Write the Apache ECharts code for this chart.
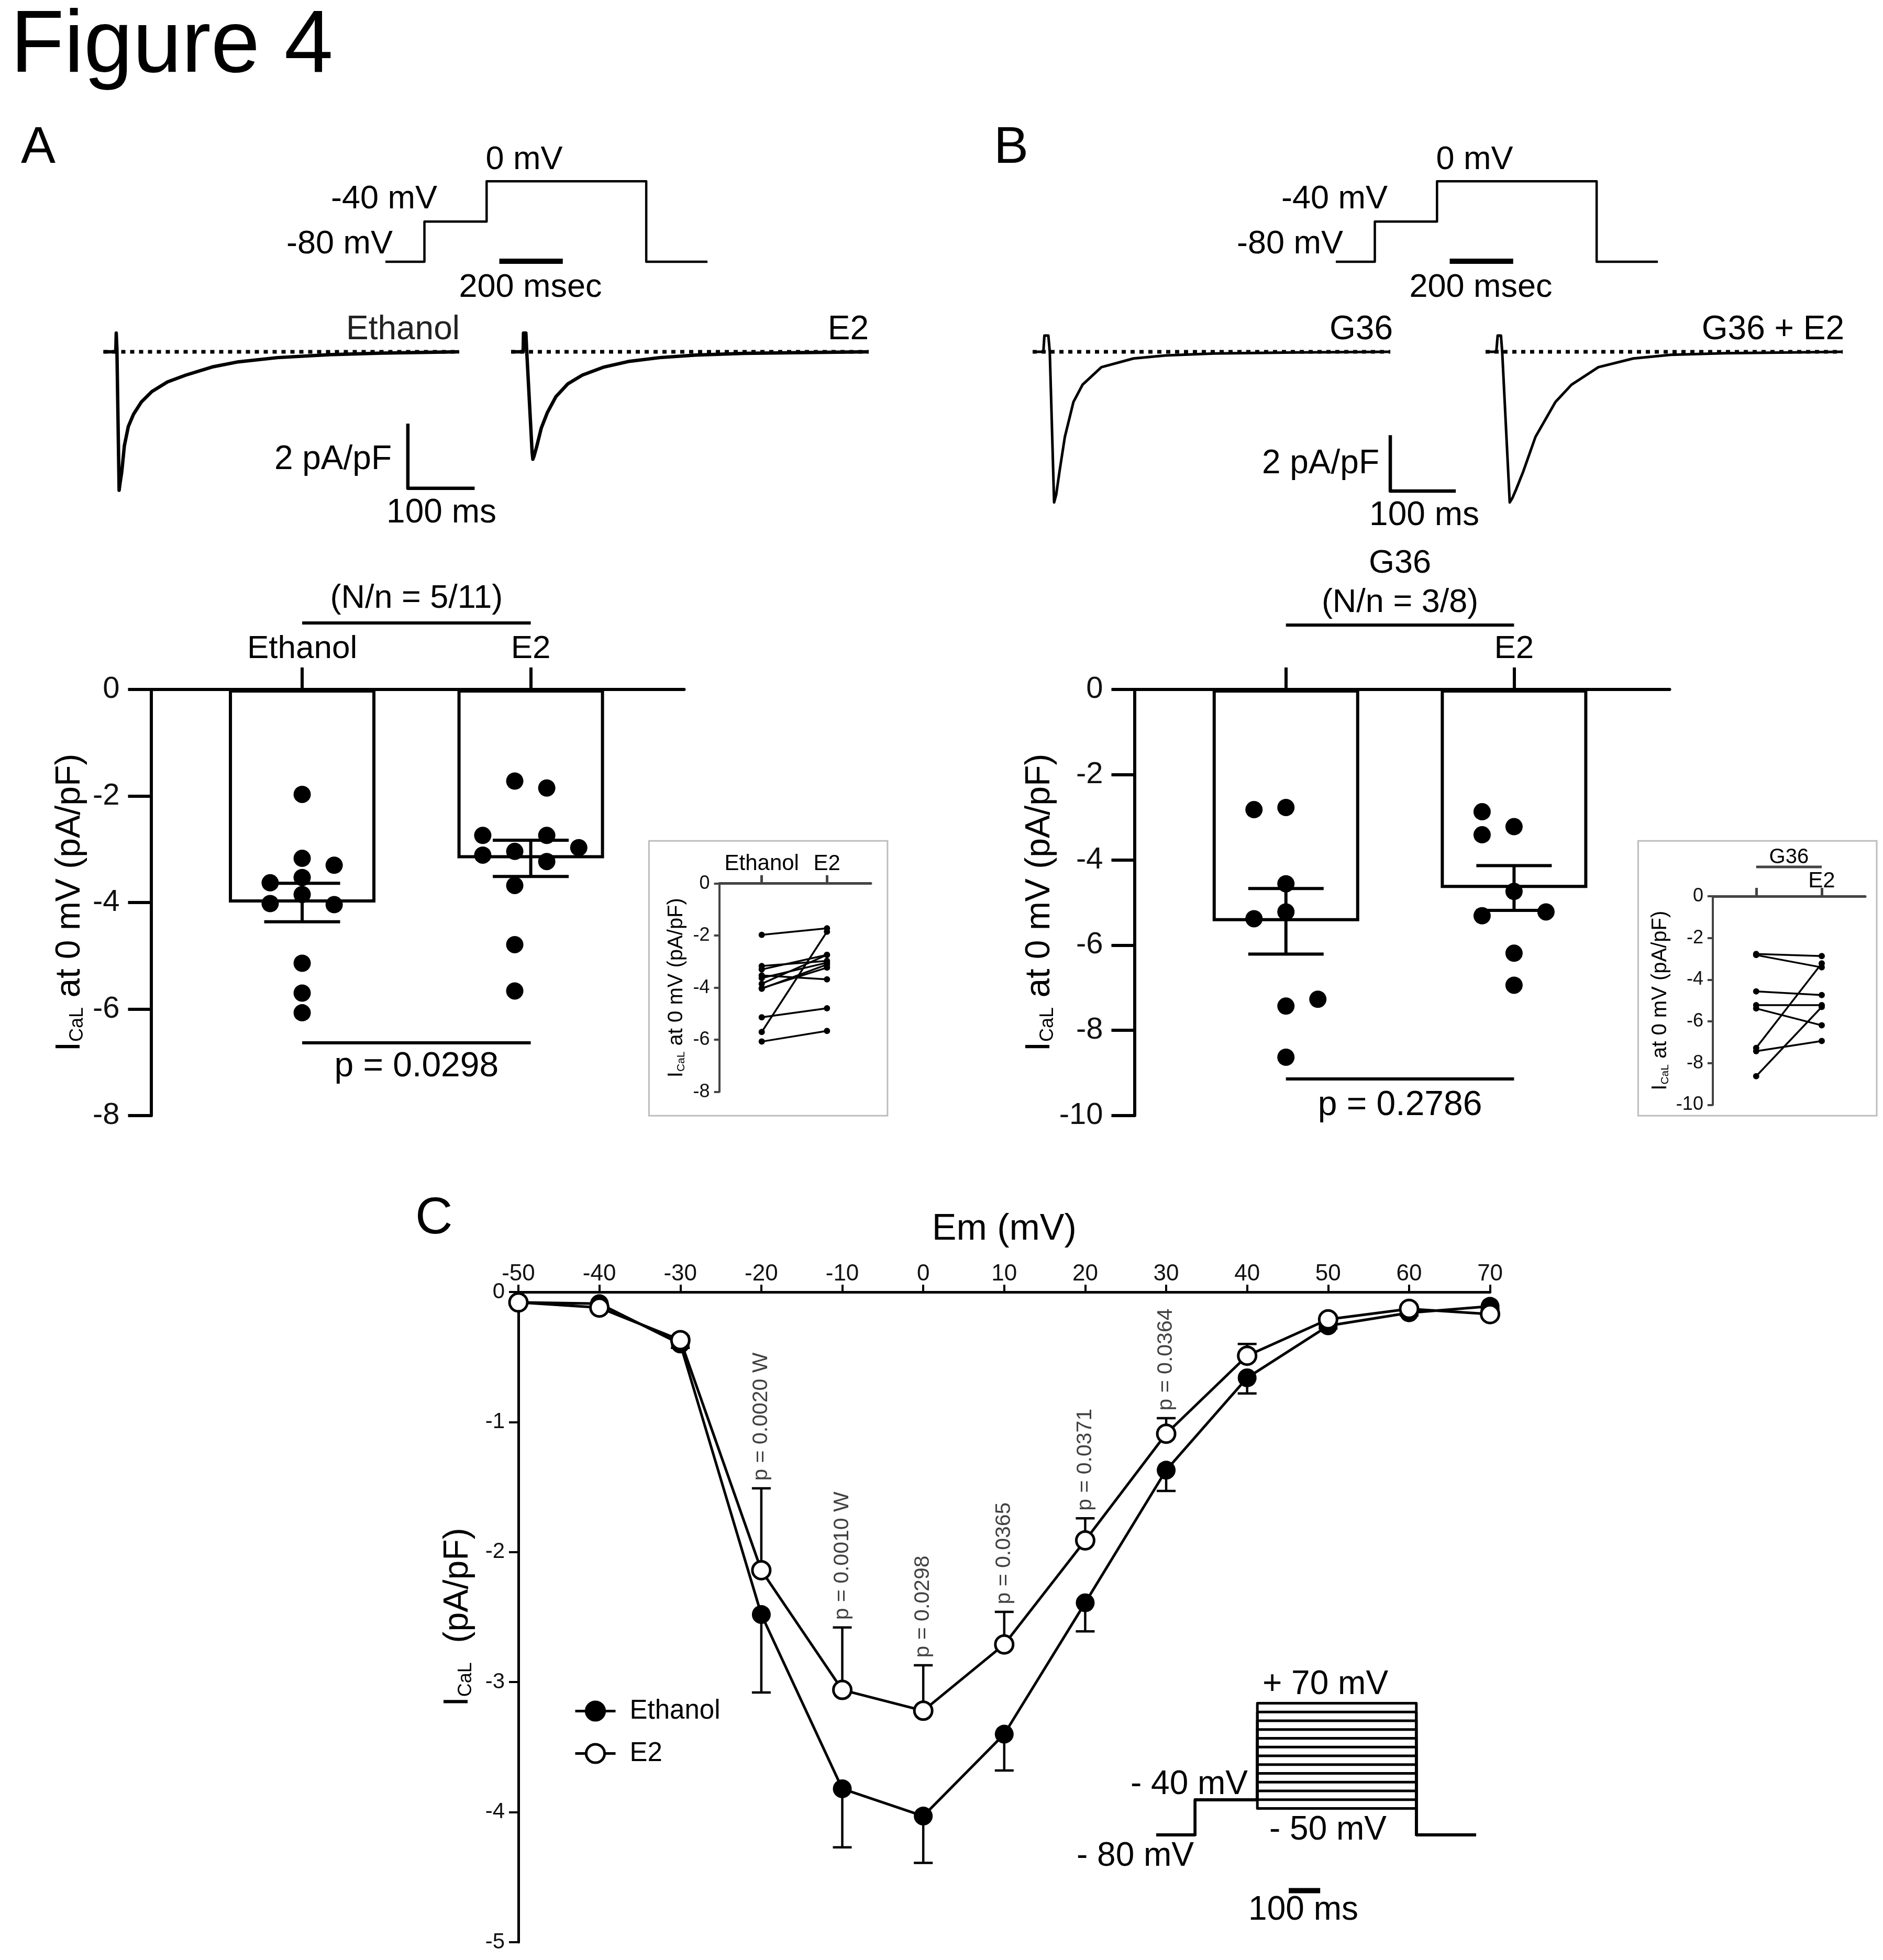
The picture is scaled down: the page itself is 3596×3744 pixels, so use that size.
<!DOCTYPE html>
<html><head><meta charset="utf-8">
<script src="https://cdn.jsdelivr.net/npm/echarts@6/dist/echarts.min.js"></script>
<style>html,body{margin:0;padding:0;background:#fff}#c{width:3596px;height:3744px}</style>
</head><body><div id="c"></div>
<script>
// ================= DATA =================
// Voltage protocol, panels A and B: [ms, mV]
const protoAB = [[0,-80],[123,-80],[123,-40],[319,-40],[319,0],[822,0],[822,-80],[1015,-80]];
const protoABScale = [[359,-79.5],[559,-79.5]];          // 200 msec bar
// Representative current traces: [ms, pA/pF]
const traceEthanol = [[0,0],[18.5,0],[19.2,0.58],[20.2,0.1],[23.5,-4.28],[25,-4.05],[27.5,-3.71],[31.4,-2.9],[37.3,-2.31],[45.1,-1.93],[56.9,-1.55],[72.5,-1.23],[96,-0.93],[123.5,-0.72],[162.7,-0.47],[202,-0.31],[260.8,-0.18],[339,-0.09],[417.6,-0.04],[533,0]];
const traceE2 = [[0,0],[18.1,0],[18.6,0.58],[22.2,0.58],[23.5,0],[31.5,-3.1],[32.6,-3.32],[34,-3.25],[38,-2.96],[45.2,-2.36],[54.3,-1.88],[67,-1.39],[85,-0.99],[106.8,-0.72],[139.3,-0.47],[175.5,-0.30],[222.6,-0.18],[276.9,-0.10],[349,-0.05],[421.6,-0.03],[535.6,0]];
const traceG36 = [[0,0],[16.4,0],[18,0.58],[24,0.58],[26.2,0],[32.8,-5.40],[36,-5.12],[41,-4.30],[49.2,-3.05],[62.3,-1.80],[76.2,-1.18],[105,-0.55],[154,-0.24],[203,-0.13],[277,-0.06],[400,-0.025],[546,0]];
const traceG36E2 = [[0,0],[16.4,0],[18.5,0.58],[23.5,0.58],[25.4,0],[36.9,-5.40],[41,-5.24],[46.7,-4.93],[57.4,-4.30],[76.2,-3.05],[106.6,-1.80],[131.2,-1.18],[172.2,-0.55],[225.5,-0.24],[282.9,-0.11],[364.8,-0.05],[545.2,0]];
const scaleBarA = [[456,-2.22],[456,-4.22],[556,-4.22]];  // 2 pA/pF, 100 ms
const scaleBarB = [[546,-2.99],[546,-4.99],[646,-4.99]];

// Panel A bar chart
const catsA = ['Ethanol','E2'];
const meanA = [-4.0, -3.17];
const semA = [0.36, 0.34];
const ethA = [-1.97,-3.17,-3.30,-3.53,-3.63,-3.85,-4.02,-4.04,-5.14,-5.70,-6.07];
const e2A  = [-1.72,-2.97,-2.74,-3.68,-3.04,-2.74,-3.23,-3.11,-4.79,-1.85,-5.66]; // paired with ethA

// Panel B bar chart
const labelsB = ['', 'E2'];
const meanB = [-5.44, -4.66];
const semB = [0.77, 0.525];
const g36B = [-2.77,-2.82,-4.56,-5.22,-5.38,-7.27,-7.43,-8.63];
const e2B  = [-2.87,-3.41,-4.74,-5.22,-6.19,-3.22,-6.94,-5.31]; // paired with g36B

// Panel C I-V curve
const emV   = [-50,-40,-30,-20,-10,0,10,20,30,40,50,60,70];
const ethC  = [-0.08,-0.09,-0.40,-2.48,-3.82,-4.03,-3.40,-2.39,-1.37,-0.66,-0.26,-0.16,-0.11];
const ethCsem = [0.02,0.02,0.03,0.60,0.45,0.36,0.28,0.22,0.16,0.12,0.02,0.02,0.02];
const e2C   = [-0.08,-0.12,-0.37,-2.14,-3.06,-3.22,-2.71,-1.91,-1.09,-0.49,-0.21,-0.13,-0.17];
const e2Csem  = [0.02,0.02,0.03,0.63,0.48,0.35,0.25,0.17,0.12,0.09,0.02,0.02,0.02];
const pAt   = [-20,-10,0,10,20,30];
const pText = ['p = 0.0020 W','p = 0.0010 W','p = 0.0298','p = 0.0365','p = 0.0371','p = 0.0364'];
// Panel C protocol
const cHold = -80, cPre = -40;
const cTimes = [0,124,322,828,1018];
const cLevels = [-50,-40,-30,-20,-10,0,10,20,30,40,50,60,70];
const cScale = [[422,-143.7],[522,-143.7]];

// ================= LAYOUT (swarm slots, not data) =================
const SLOT = 0.07;
const slotEthA = [0,0,2,0,-2,0,-2,2,0,0,0];
const slotE2A  = [-1,3,-3,-1,-1,1,1,-3,-1,1,-1];
const slotG36B = [0,-2,0,0,-2,2,0,0];
const slotE2B  = [-2,-2,0,2,0,0,0,-2];

const FONT = "'Liberation Sans', Arial, Helvetica, sans-serif";
const chart = echarts.init(document.getElementById('c'), null, {renderer:'canvas'});

const grids = [
 {left:736, top:327, width:624.2, height:192.25},
 {left:2551, top:327, width:624.2, height:192.25},
 {left:197.5, top:610.2, width:816, height:346.1},
 {left:976, top:610.2, width:816, height:346.1},
 {left:1972, top:618.7, width:825.7, height:362.4},
 {left:2837, top:618.7, width:700.6, height:362.4},
 {left:288.5, top:1317, width:1018, height:814},
 {left:1373.6, top:1687.7, width:289.4, height:397.9},
 {left:2166.5, top:1317, width:1022, height:814},
 {left:3270.9, top:1712, width:291.1, height:398.4},
 {left:990, top:2468, width:1855.6, height:1242},
 {left:2208, top:3236.85, width:624, height:385.25}
];
function hx(i,min,max){return {gridIndex:i,type:'value',min,max,show:false,splitLine:{show:false}};}
function hy(i,min,max){return {gridIndex:i,type:'value',min,max,show:false,splitLine:{show:false}};}
const nameRich = (fs, sub) => ({fontSize:fs, fontFamily:FONT, color:'#000', rich:{sub:{fontSize:sub, fontFamily:FONT, color:'#000', verticalAlign:'bottom'}}});

function barX(i, min, max, labels, tickVals, labVals, fs, tickLen, margin, lw, col){
  return {gridIndex:i, type:'value', position:'top', min, max,
    axisLine:{show:true, onZero:false, lineStyle:{color:col, width:lw}},
    axisTick:{show:true, customValues:tickVals, length:tickLen, lineStyle:{color:col, width:lw}},
    axisLabel:{show:true, customValues:labVals, formatter:(v)=>labels[Math.round(v)-1], margin, fontSize:fs, fontFamily:FONT, color:'#000'},
    splitLine:{show:false}};
}
function barY(i, min, interval, fs, tickLen, margin, lw, col, name, nfs, nsub, gap){
  return {gridIndex:i, type:'value', min, max:0, interval,
    axisLine:{show:true, onZero:false, lineStyle:{color:col, width:lw}},
    axisTick:{show:true, length:tickLen, lineStyle:{color:col, width:lw}},
    axisLabel:{margin, fontSize:fs, fontFamily:FONT, color:'#111'},
    splitLine:{show:false},
    name, nameLocation:'middle', nameGap:gap, nameTextStyle:nameRich(nfs,nsub)};
}

const xAxes = [
  hx(0,0,1030), hx(1,0,1030), hx(2,0,640), hx(3,0,640), hx(4,0,660), hx(5,0,560),
  barX(6,0.339,2.671,catsA,[1,2],[1,2],62,42,46,6,'#000'),
  barX(7,0.349,2.672,catsA,[1,2],[1,2],42,16,16,5,'#444'),
  barX(8,0.336,2.682,labelsB,[1,2],[2],62,42,46,6,'#000'),
  barX(9,0.338,2.663,labelsB,[1,2],[2],42,16,8,5,'#444'),
  {gridIndex:10, type:'value', position:'top', min:-50, max:70, interval:10,
   axisLine:{show:true,onZero:false,lineStyle:{color:'#000',width:5}},
   axisTick:{show:true,length:14,lineStyle:{color:'#000',width:4}},
   axisLabel:{margin:12,fontSize:44,fontFamily:FONT,color:'#111'},
   splitLine:{show:false}, name:'Em (mV)', nameLocation:'middle', nameGap:84,
   nameTextStyle:{fontSize:70,fontFamily:FONT,color:'#000'}},
  hx(11,0,1040)
];
const yAxes = [
  hy(0,-90,10), hy(1,-90,10), hy(2,-4.6,1.0), hy(3,-4.6,1.0), hy(4,-5.8,1.0), hy(5,-5.8,1.0),
  barY(6,-8,2,58,44,60,6,'#000','I{sub|CaL} at 0 mV (pA/pF)',66,36,122),
  barY(7,-8,2,36,10,18,4,'#444','I{sub|CaL} at 0 mV (pA/pF)',40,21,62),
  barY(8,-10,2,58,44,60,6,'#000','I{sub|CaL} at 0 mV (pA/pF)',66,36,142),
  barY(9,-10,2,36,10,18,4,'#444','I{sub|CaL} at 0 mV (pA/pF)',40,21,80),
  {gridIndex:10, type:'value', min:-5, max:0, interval:1,
   axisLine:{show:true,onZero:false,lineStyle:{color:'#000',width:5}},
   axisTick:{show:true,length:18,lineStyle:{color:'#000',width:4}},
   axisLabel:{margin:26,fontSize:42,fontFamily:FONT,color:'#111'},
   splitLine:{show:false}, name:'I{sub|CaL}  (pA/pF)', nameLocation:'middle', nameGap:82,
   nameTextStyle:nameRich(66,36)},
  hy(11,-150,80)
];

function lineS(i, data, w, extra){
  return Object.assign({type:'line', xAxisIndex:i, yAxisIndex:i, data, symbol:'none', showSymbol:false,
    lineStyle:{color:'#000', width:w, join:'round'}, silent:true, animation:false, z:3}, extra||{});
}
function baseline(i, tr){
  return lineS(i, [[tr[0][0],0],[tr[tr.length-1][0],0]], 7, {lineStyle:{color:'#000', width:7, type:[8,9], cap:'butt'}, z:4});
}
function makeErr(cap, lw, mode){
  return function(params, api){
    const x=api.value(0), a=api.value(1), b=api.value(2);
    const p=api.coord([x,a]), q=api.coord([x,b]);
    const st={stroke:'#000', lineWidth:lw};
    const ch=[{type:'line',shape:{x1:p[0],y1:p[1],x2:q[0],y2:q[1]},style:st}];
    if(mode==='both') ch.push({type:'line',shape:{x1:p[0]-cap/2,y1:p[1],x2:p[0]+cap/2,y2:p[1]},style:st});
    ch.push({type:'line',shape:{x1:q[0]-cap/2,y1:q[1],x2:q[0]+cap/2,y2:q[1]},style:st});
    return {type:'group',children:ch};
  };
}

const series = [];
// protocols A/B
[0,1].forEach(i=>{
  series.push(lineS(i, protoAB, 4.5));
  series.push(lineS(i, protoABScale, 10));
});
// traces
series.push(lineS(2, traceEthanol, 6.5), baseline(2, traceEthanol), lineS(2, scaleBarA, 6.5));
series.push(lineS(3, traceE2, 6.5), baseline(3, traceE2));
series.push(lineS(4, traceG36, 5), baseline(4, traceG36), lineS(4, scaleBarB, 6.5));
series.push(lineS(5, traceG36E2, 5), baseline(5, traceG36E2));

// bar charts
function barSet(i, means, sems, g1, g2, s1, s2, cap){
  series.push({type:'bar', xAxisIndex:i, yAxisIndex:i, data:means.map((m,k)=>[k+1,m]), barWidth:280,
    itemStyle:{color:'#fff', borderColor:'#000', borderWidth:6}, silent:true, animation:false, z:2});
  series.push({type:'scatter', xAxisIndex:i, yAxisIndex:i,
    data: g1.map((v,k)=>[1+s1[k]*SLOT, v]).concat(g2.map((v,k)=>[2+s2[k]*SLOT, v])),
    symbolSize:33, itemStyle:{color:'#000', opacity:1}, silent:true, animation:false, z:4});
  series.push({type:'custom', xAxisIndex:i, yAxisIndex:i, renderItem:makeErr(cap,6,'both'),
    data: means.map((m,k)=>[k+1, m+sems[k], m-sems[k]]), silent:true, animation:false, z:5});
}
barSet(6, meanA, semA, ethA, e2A, slotEthA, slotE2A, 145);
barSet(8, meanB, semB, g36B, e2B, slotG36B, slotE2B, 144);
// insets (paired lines)
function pairs(i, g1, g2){
  g1.forEach((v,k)=>{
    series.push({type:'line', xAxisIndex:i, yAxisIndex:i, data:[[1,v],[2,g2[k]]], symbol:'circle', symbolSize:12,
      lineStyle:{color:'#000', width:3.5}, itemStyle:{color:'#000', opacity:1}, silent:true, animation:false, z:3});
  });
}
pairs(7, ethA, e2A);
pairs(9, g36B, e2B);

// panel C
series.push({type:'custom', xAxisIndex:10, yAxisIndex:10, renderItem:makeErr(36,4.5,'end'),
  data: emV.map((v,k)=>[v, ethC[k], ethC[k]-ethCsem[k]]), silent:true, animation:false, z:2});
series.push({type:'custom', xAxisIndex:10, yAxisIndex:10, renderItem:makeErr(36,4.5,'end'),
  data: emV.map((v,k)=>[v, e2C[k], e2C[k]+e2Csem[k]]), silent:true, animation:false, z:2});
series.push({type:'line', name:'Ethanol', xAxisIndex:10, yAxisIndex:10, data: emV.map((v,k)=>[v, ethC[k]]),
  symbol:'circle', symbolSize:36, clip:false, lineStyle:{color:'#000', width:5}, itemStyle:{color:'#000'}, animation:false, z:4});
series.push({type:'line', name:'E2', xAxisIndex:10, yAxisIndex:10, data: emV.map((v,k)=>[v, e2C[k]]),
  symbol:'circle', symbolSize:34, clip:false, lineStyle:{color:'#000', width:5}, itemStyle:{color:'#fff', borderColor:'#000', borderWidth:5}, animation:false, z:5});
series.push({type:'scatter', xAxisIndex:10, yAxisIndex:10,
  data: pAt.map(v=>{const k=emV.indexOf(v); return [v, e2C[k]+e2Csem[k]];}),
  symbolSize:1, itemStyle:{color:'rgba(0,0,0,0)'}, silent:true, animation:false, z:6,
  label:{show:true, formatter:(p)=>pText[p.dataIndex], position:'top', distance:14, rotate:90, align:'left', verticalAlign:'middle',
    fontSize:41, fontFamily:FONT, color:'#111'}});
// panel C protocol
cLevels.forEach(V=>{
  series.push(lineS(11, [[cTimes[0],cHold],[cTimes[1],cHold],[cTimes[1],cPre],[cTimes[2],cPre],[cTimes[2],V],[cTimes[3],V],[cTimes[3],cHold],[cTimes[4],cHold]], 5));
});
series.push(lineS(11, cScale, 10));

chart.setOption({
  animation:false, backgroundColor:'#fff',
  grid: grids, xAxis: xAxes, yAxis: yAxes, series,
  legend:{data:['Ethanol','E2'], orient:'vertical', left:1091, top:3238, itemWidth:77, itemHeight:44, itemGap:30,
    selectedMode:false, lineStyle:{color:'#000', width:5, opacity:1}, itemStyle:{borderColor:'#000', borderWidth:5},
    textStyle:{fontSize:51, fontFamily:FONT, color:'#000', padding:[0,0,0,22]}}
});

// ================= ANNOTATIONS =================
function T(s, x, y, size, align, extra){
  return {type:'text', silent:true, z:100, style:Object.assign({text:s, x, y, fontSize:size, fontFamily:FONT, fill:'#000',
    align:align||'center', verticalAlign:'middle', textAlign:align||'center', textVerticalAlign:'middle'}, extra||{})};
}
function L(x1,y1,x2,y2,w,c){return {type:'line', silent:true, z:100, shape:{x1,y1,x2,y2}, style:{stroke:c||'#000', lineWidth:w}};}
const px = (i,v)=>chart.convertToPixel({xAxisIndex:i}, v);
const g = [];
g.push(T('Figure 4', 20, 91, 168, 'left'));
g.push(T('A', 40, 284, 99, 'left'), T('B', 1898, 284, 99, 'left'), T('C', 793, 2329, 99, 'left'));
// protocol labels
[0,1815].forEach(dx=>{
  g.push(T('0 mV', 1001+dx, 306, 63), T('-40 mV', 835+dx, 381, 63, 'right'), T('-80 mV', 750+dx, 467, 63, 'right'), T('200 msec', 1013+dx, 550, 63));
});
// trace labels
g.push(T('Ethanol', 878, 630, 64, 'right', {fill:'#222'}), T('E2', 1659, 630, 64, 'right'));
g.push(T('2 pA/pF', 748, 878, 64, 'right'), T('100 ms', 843, 980, 64));
g.push(T('G36', 2660, 630, 64, 'right'), T('G36 + E2', 3522, 630, 64, 'right'));
g.push(T('2 pA/pF', 2634, 886, 64, 'right'), T('100 ms', 2720, 985, 64));
// bar A annotations
const a1=px(6,1), a2=px(6,2);
g.push(T('(N/n = 5/11)', (a1+a2)/2, 1144, 63), L(a1,1190,a2,1190,6), L(a1,1992,a2,1992,6), T('p = 0.0298', (a1+a2)/2, 2038, 66));
// bar B annotations
const b1=px(8,1), b2=px(8,2);
g.push(T('G36', (b1+b2)/2, 1077, 63), T('(N/n = 3/8)', (b1+b2)/2, 1152, 63), L(b1,1194,b2,1194,6), L(b1,2061,b2,2061,6), T('p = 0.2786', (b1+b2)/2, 2112, 66));
// inset boxes
g.push({type:'rect', silent:true, z:90, shape:{x:1239.4, y:1606.2, width:455.5, height:525}, style:{fill:'none', stroke:'#bdbdbd', lineWidth:3}});
g.push({type:'rect', silent:true, z:90, shape:{x:3128.4, y:1606.2, width:455.6, height:525}, style:{fill:'none', stroke:'#bdbdbd', lineWidth:3}});
const i1=px(9,1), i2=px(9,2);
g.push(T('G36', (i1+i2)/2, 1638, 40), L(i1,1656,i2,1656,5,'#444'));
// panel C protocol labels
g.push(T('+ 70 mV', 2531, 3218, 64), T('- 40 mV', 2271, 3409, 64), T('- 50 mV', 2536, 3496, 64), T('- 80 mV', 2280, 3546, 64, 'right'), T('100 ms', 2489, 3649, 64));
chart.setOption({graphic: g});
</script>
</body></html>
